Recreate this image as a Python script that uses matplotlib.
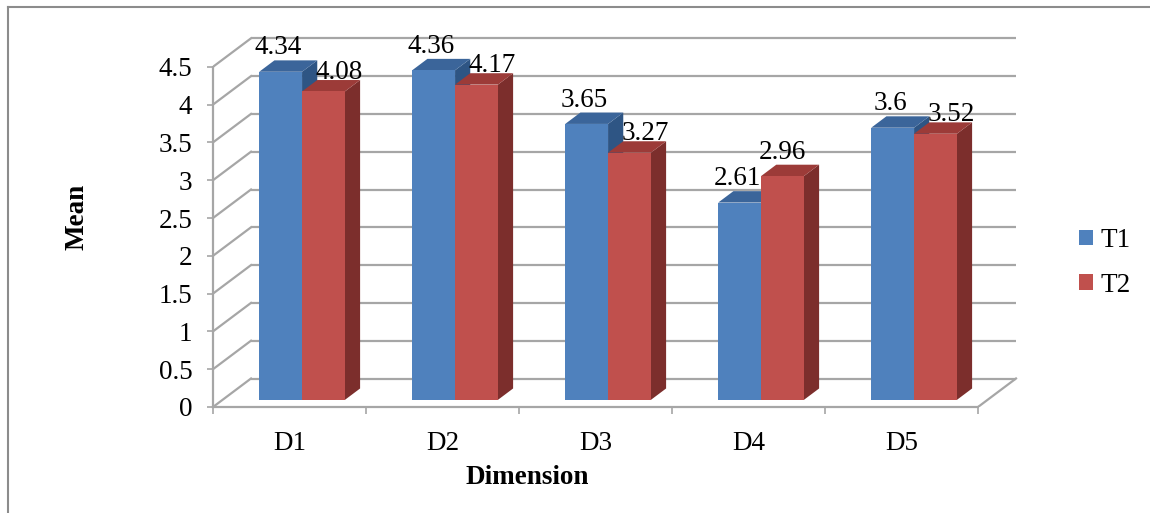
import numpy as np
import matplotlib
matplotlib.use("Agg")
import matplotlib.pyplot as plt
from matplotlib.patches import Polygon, Patch
from matplotlib.lines import Line2D
from matplotlib.ticker import FuncFormatter, FixedLocator

plt.rcParams['font.family'] = ['Liberation Serif', 'DejaVu Serif']

dimensions = ["D1", "D2", "D3", "D4", "D5"]
series_names = ["T1", "T2"]
t1_means = [4.34, 4.36, 3.65, 2.61, 3.6]
t2_means = [4.08, 4.17, 3.27, 2.96, 3.52]
y_ticks = [0, 0.5, 1, 1.5, 2, 2.5, 3, 3.5, 4, 4.5]

# faces: front, top, side
blue = ("#4f81bd", "#3b659a", "#2e5584")
red = ("#c0504d", "#9c3b38", "#7c2e2c")
grid_col = "#a6a6a6"
fs = 19.5

W, H = 1150, 513
fig = plt.figure(figsize=(W / 100, H / 100), dpi=100)
ax = fig.add_axes([213 / W, (H - 407) / H, (1020 - 213) / W, (407 - 35) / H])
ax.set_xlim(0, 807 / 153)
ax.set_ylim(0, 372 / 75.6)

# oblique depth vector (data units) for the full floor depth
DX, DY = 38 / 153, 28.5 / 75.6
ymax = y_ticks[-1]
ncat = len(dimensions)

# back wall and left wall gridlines
for v in y_ticks:
    ax.plot([DX, ncat + DX], [v + DY, v + DY], color=grid_col, lw=1.6, zorder=1,
            solid_capstyle='butt')
    ax.plot([0, DX], [v, v + DY], color=grid_col, lw=1.6, zorder=1)
# floor right edge
ax.plot([ncat, ncat + DX], [0, DY], color=grid_col, lw=1.6, zorder=1)


def draw_bar(x0, w, h, cols, f0=0.25, fd=0.4):
    sx, sy = DX * f0, DY * f0
    ddx, ddy = DX * fd, DY * fd
    xl, xr = x0 + sx, x0 + w + sx
    yb, yt = sy, h + sy
    side = [(xr, yb), (xr + ddx, yb + ddy), (xr + ddx, yt + ddy), (xr, yt)]
    top = [(xl, yt), (xr, yt), (xr + ddx, yt + ddy), (xl + ddx, yt + ddy)]
    front = [(xl, yb), (xr, yb), (xr, yt), (xl, yt)]
    for poly, c in ((side, cols[2]), (top, cols[1]), (front, cols[0])):
        ax.add_patch(Polygon(poly, closed=True, facecolor=c, edgecolor='none',
                             zorder=3, clip_on=False))
    return (xl + xr) / 2, yt


bw = 0.28
for i, (a, b) in enumerate(zip(t1_means, t2_means)):
    c = i + 0.5
    bx, by = draw_bar(c - 0.26, bw, a, blue)
    rx, ry = draw_bar(c + 0.02, bw, b, red)
    ax.annotate(f"{a:g}", (bx, by), xytext=(-1.5, 12.5), textcoords='offset points',
                ha='center', va='baseline', fontsize=fs, zorder=5)
    if b < a:
        off = (11.5, 9)
    else:
        off = (0, 12.5)
    ax.annotate(f"{b:g}", (rx, ry), xytext=off, textcoords='offset points',
                ha='center', va='baseline', fontsize=fs, zorder=5)

# axes
for s in ('top', 'right'):
    ax.spines[s].set_visible(False)
for s in ('left', 'bottom'):
    ax.spines[s].set_color(grid_col)
    ax.spines[s].set_linewidth(1.6)
ax.spines['left'].set_bounds(0, ymax)
ax.spines['bottom'].set_bounds(0, ncat)
ax.set_yticks(y_ticks)
ax.yaxis.set_major_formatter(FuncFormatter(lambda v, p: f"{v:g}"))
ax.tick_params(axis='y', length=6 * 0.72, width=1.2, color=grid_col, pad=10.5,
               labelsize=fs)
ax.xaxis.set_major_locator(FixedLocator(range(ncat + 1)))
ax.xaxis.set_minor_locator(FixedLocator([i + 0.5 for i in range(ncat)]))
ax.set_xticklabels([])
ax.set_xticklabels(dimensions, minor=True)
ax.tick_params(axis='x', which='major', length=7 * 0.72, width=1.2, color=grid_col)
ax.tick_params(axis='x', which='minor', length=0, pad=17.5, labelsize=fs)
ax.patch.set_visible(False)

fig.text(77 / W, 1 - 217 / H, "Mean", rotation=90, ha='center', va='center',
         fontsize=fs, fontweight='bold')
fig.text(527 / W, 1 - 477 / H, "Dimension", ha='center', va='center',
         fontsize=fs, fontweight='bold')

handles = [Patch(facecolor=blue[0]), Patch(facecolor=red[0])]
fig.legend(handles, series_names, loc='center left',
           bbox_to_anchor=(1079 / W, 1 - 263 / H), frameon=False, fontsize=fs,
           handlelength=0.5, handleheight=0.5, handletextpad=0.3,
           labelspacing=0.72, borderpad=0, borderaxespad=0)

# outer chart border (left and top only visible)
fig.add_artist(Line2D([8 / W, 8 / W], [0, 1 - 7 / H], transform=fig.transFigure,
                      color="#8c8c8c", lw=1.5))
fig.add_artist(Line2D([8 / W, 1], [1 - 7 / H, 1 - 7 / H], transform=fig.transFigure,
                      color="#8c8c8c", lw=1.5))

fig.savefig("out.png", dpi=100)
